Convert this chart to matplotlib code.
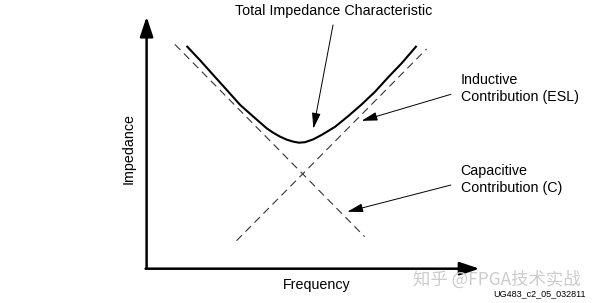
import matplotlib
matplotlib.use('Agg')

import matplotlib.pyplot as plt
import numpy as np

# curves (arbitrary frequency / impedance units, 0..10)
cap_freq = [0.85, 6.55]
cap_imp = [8.90, 1.27]
ind_freq = [2.70, 8.41]
ind_imp = [1.11, 8.72]

total_freq = [1.20, 1.60, 2.00, 2.41, 2.81, 3.21, 3.61, 3.81, 4.01, 4.21, 4.41,
              4.58, 4.76, 5.00, 5.26, 5.66, 6.06, 6.46, 6.86, 7.26, 7.66, 8.11]
total_imp = [8.84, 8.28, 7.69, 7.09, 6.50, 6.03, 5.57, 5.39, 5.24, 5.12, 5.04,
             5.00, 5.02, 5.13, 5.31, 5.63, 6.06, 6.52, 7.02, 7.60, 8.15, 8.84]

x_label = 'Frequency'
y_label = 'Impedance'
total_label = 'Total Impedance Characteristic'
ind_label = 'Inductive\nContribution (ESL)'
cap_label = 'Capacitive\nContribution (C)'

plt.rcParams['font.family'] = ['Liberation Sans', 'DejaVu Sans']

fig = plt.figure(figsize=(6, 3.03), dpi=100)
ax = fig.add_axes([146.6 / 600, 34.3 / 303, 332.9 / 600, 252 / 303])
ax.set_xlim(0, 10)
ax.set_ylim(0, 10)
ax.axis('off')

# axes drawn as arrows
axis_arrow = dict(arrowstyle='-|>,head_length=0.6,head_width=0.2', lw=1.8,
                  color='black', shrinkA=0, shrinkB=0, mutation_scale=20)
ax.annotate('', xy=(0, 10), xytext=(0, 0), arrowprops=axis_arrow, annotation_clip=False)
ax.annotate('', xy=(10, 0), xytext=(-0.03, 0), arrowprops=axis_arrow, annotation_clip=False)

dash = dict(color='#333333', lw=0.8, dashes=(7, 4.5))
ax.plot(cap_freq, cap_imp, **dash)
ax.plot(ind_freq, ind_imp, **dash)
ax.plot(total_freq, total_imp, color='black', lw=1.5, solid_joinstyle='round',
        solid_capstyle='butt')

note_arrow = dict(arrowstyle='-|>,head_length=0.8,head_width=0.22', lw=0.7,
                  color='black', shrinkA=0, shrinkB=0, mutation_scale=12)
ax.text(5.63, 10.23, total_label, ha='center', va='center', fontsize=10.3)
ax.annotate('', xy=(5.01, 5.56), xytext=(5.60, 9.67), arrowprops=note_arrow,
            annotation_clip=False)
ax.text(9.43, 7.14, ind_label, ha='left', va='center', fontsize=10.3, linespacing=1.25)
ax.annotate('', xy=(6.46, 5.87), xytext=(9.14, 6.92), arrowprops=note_arrow,
            annotation_clip=False)
ax.text(9.43, 3.53, cap_label, ha='left', va='center', fontsize=10.3, linespacing=1.25)
ax.annotate('', xy=(6.03, 2.26), xytext=(9.14, 3.32), arrowprops=note_arrow,
            annotation_clip=False)

ax.text(5.12, -0.65, x_label, ha='center', va='center', fontsize=10.3)
ax.text(-0.55, 4.78, y_label, ha='center', va='center', fontsize=10.3, rotation=90)

fig.text(413 / 600, 1 - 279.5 / 303, '知乎 @FPGA技术实战', ha='left', va='center',
         fontsize=12.5, color='#cccccc', family=['Noto Sans CJK SC', 'DejaVu Sans'])
fig.text(585.5 / 600, 1 - 294 / 303, 'UG483_c2_05_032811', ha='right', va='center',
         fontsize=6.5, color='black')

fig.savefig('out.png', dpi=100, facecolor='white')
